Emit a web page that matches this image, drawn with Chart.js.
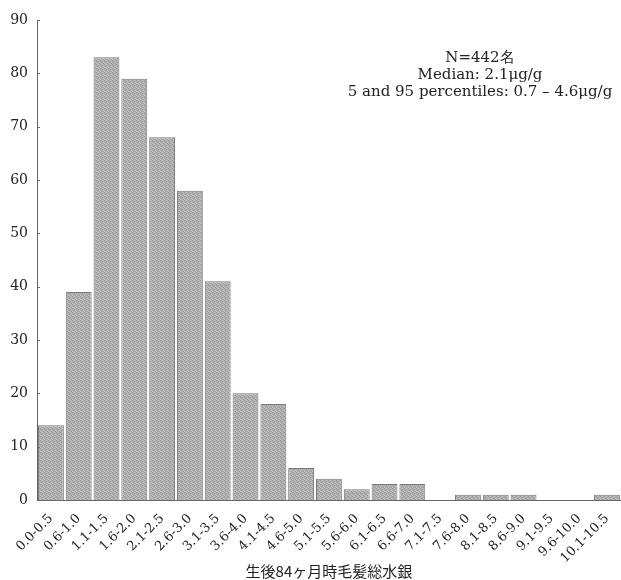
<!DOCTYPE html>
<html>
<head>
<meta charset="utf-8">
<script src="https://cdn.jsdelivr.net/npm/chart.js@4/dist/chart.umd.min.js"></script>
<style>
  html, body { margin: 0; padding: 0; background: #fff; }
  #wrap { width: 621px; height: 580px; }
</style>
</head>
<body>
<div id="wrap"><canvas id="histChart"></canvas></div>
<script>
var ranges = ['0.0-0.5', '0.6-1.0', '1.1-1.5', '1.6-2.0', '2.1-2.5', '2.6-3.0', '3.1-3.5',
    '3.6-4.0', '4.1-4.5', '4.6-5.0', '5.1-5.5', '5.6-6.0', '6.1-6.5', '6.6-7.0', '7.1-7.5',
    '7.6-8.0', '8.1-8.5', '8.6-9.0', '9.1-9.5', '9.6-10.0', '10.1-10.5'];
var counts = [14, 39, 83, 79, 68, 58, 41, 20, 18, 6, 4, 2, 3, 3, 0, 1, 1, 1, 0, 0, 1];
var yTicks = [0, 10, 20, 30, 40, 50, 60, 70, 80, 90];
var notes = ['N=442名', 'Median: 2.1\u03bcg/g', '5 and 95 percentiles: 0.7 \u2013 4.6\u03bcg/g'];

// screen-tone fill like the printed figure
var pc = document.createElement('canvas');
pc.width = 4; pc.height = 4;
var pctx = pc.getContext('2d');
pctx.fillStyle = '#b0b0b0'; pctx.fillRect(0, 0, 4, 4);
pctx.fillStyle = '#999999';
pctx.fillRect(0, 0, 1, 1); pctx.fillRect(2, 1, 1, 1); pctx.fillRect(1, 2, 1, 1); pctx.fillRect(3, 3, 1, 1);
pctx.fillStyle = '#c2c2c2';
pctx.fillRect(2, 0, 1, 1); pctx.fillRect(0, 3, 1, 1); pctx.fillRect(3, 2, 1, 1);
var barFill = pctx.createPattern(pc, 'repeat');

var serif = "'DejaVu Serif', 'Liberation Serif', serif";

var notePlugin = {
    id: 'notes',
    afterDraw: function (chart) {
        var c = chart.ctx;
        c.save();
        c.fillStyle = '#222';
        c.font = '15px ' + serif;
        c.textAlign = 'center';
        c.textBaseline = 'middle';
        notes.forEach(function (t, i) {
            c.fillText(t, 480, 58 + i * 17);
        });
        // small inward ticks on the y axis
        var ys = chart.scales.y;
        c.strokeStyle = '#666';
        c.lineWidth = 1;
        yTicks.forEach(function (v) {
            var py = Math.round(ys.getPixelForValue(v)) + 0.5;
            c.beginPath();
            c.moveTo(ys.right, py);
            c.lineTo(ys.right + 3, py);
            c.stroke();
        });
        c.restore();
    }
};

new Chart(document.getElementById('histChart'), {
    type: 'bar',
    data: {
        labels: ranges,
        datasets: [{
            data: counts,
            backgroundColor: barFill,
            borderColor: '#7a7a7a',
            borderWidth: 1,
            barPercentage: 0.93,
            categoryPercentage: 1.0
        }]
    },
    options: {
        responsive: true,
        maintainAspectRatio: false,
        animation: false,
        layout: { padding: { top: 20, right: 0, left: 0, bottom: 0 } },
        plugins: {
            legend: { display: false },
            tooltip: { enabled: false }
        },
        scales: {
            x: {
                grid: { display: false },
                border: { display: true, color: '#666', dash: [1, 1] },
                ticks: {
                    color: '#222',
                    font: { family: serif, size: 13 },
                    minRotation: 45,
                    maxRotation: 45,
                    autoSkip: false,
                    padding: 3
                },
                title: {
                    display: true,
                    text: '生後84ヶ月時毛髪総水銀',
                    color: '#222',
                    font: { family: "'Noto Sans CJK JP', sans-serif", size: 15 },
                    padding: { top: 4, bottom: 0 }
                },
                afterFit: function (scale) { scale.height = 80; }
            },
            y: {
                min: 0,
                max: 90,
                afterBuildTicks: function (scale) {
                    scale.ticks = yTicks.map(function (v) { return { value: v }; });
                },
                grid: { display: false },
                border: { display: true, color: '#666', dash: [1, 1] },
                ticks: {
                    color: '#222',
                    font: { family: serif, size: 14 },
                    padding: 1
                },
                afterFit: function (scale) { scale.width = 37; }
            }
        }
    },
    plugins: [notePlugin]
});
</script>
</body>
</html>
